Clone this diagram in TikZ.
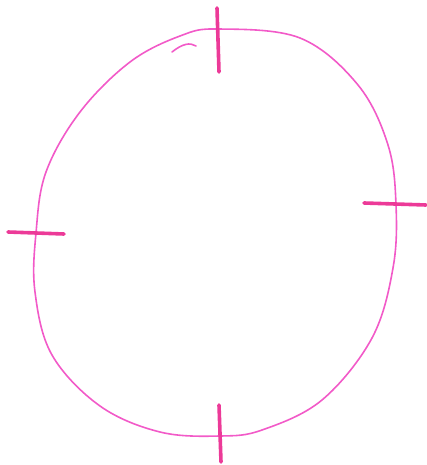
\documentclass[tikz,border=0pt]{standalone}
\begin{document}
\begin{tikzpicture}[x=1pt,y=-1pt,
  ovalline/.style={draw=ovalpink,line width=1.6pt,line cap=round},
  tickline/.style={draw=tickpink,line width=3.6pt,line cap=round}]
\definecolor{ovalpink}{HTML}{F25AC8}
\definecolor{tickpink}{HTML}{EC3A98}
\useasboundingbox (0,0) rectangle (427,465);
\draw[ovalline] plot[smooth cycle,tension=0.6] coordinates {
 (218,29) (300,38) (358,85) (388,145) (396,205) (393,268) (372,338)
 (322,400) (262,430) (220,436) (160,432) (100,406) (52,355) (35,292)
 (36,233) (46,172) (80,112) (130,62) (180,36)};
\draw[ovalline] (172,52) .. controls (182,44) and (190,42) .. (196,46);
\coordinate (t1) at (217,8); \coordinate (t2) at (219,72);
\coordinate (r1) at (364,203); \coordinate (r2) at (426,205);
\coordinate (l1) at (8,232); \coordinate (l2) at (64,234);
\coordinate (b1) at (219,405); \coordinate (b2) at (221,462);
\draw[tickline] (t1) -- (t2);
\draw[tickline] (r1) -- (r2);
\draw[tickline] (l1) -- (l2);
\draw[tickline] (b1) -- (b2);
\end{tikzpicture}
\end{document}
